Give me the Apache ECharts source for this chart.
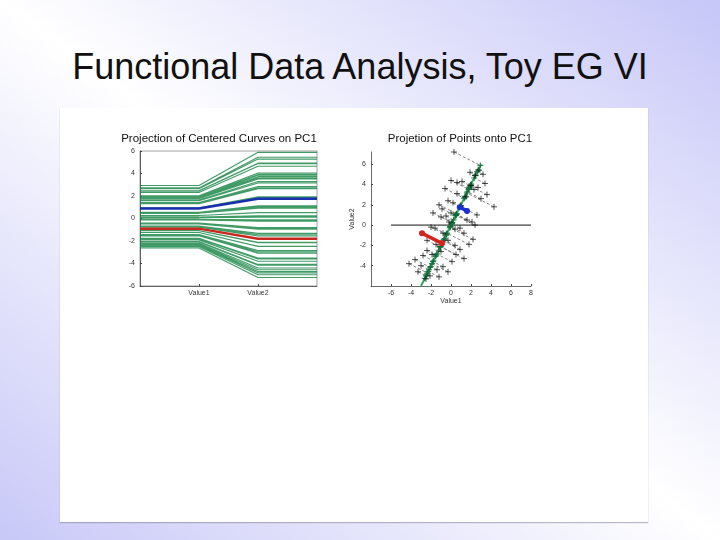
<!DOCTYPE html>
<html>
<head>
<meta charset="utf-8">
<script src="https://cdn.jsdelivr.net/npm/echarts@6/dist/echarts.min.js"></script>
<style>
html,body{margin:0;padding:0;width:720px;height:540px;overflow:hidden;}
body{background:linear-gradient(to bottom left,#c6c6f8 0%,#ffffff 50%,#c8c8f8 100%);position:relative;font-family:"Liberation Sans",Arial,sans-serif;}
#title{position:absolute;left:0;width:720px;top:46px;text-align:center;font-size:36px;color:#111;white-space:nowrap;}
#panel{position:absolute;left:60px;top:108px;width:588px;height:414px;background:#fff;box-shadow:0 1px 1px rgba(120,120,140,0.5);}
#chart{position:absolute;left:0;top:0;width:720px;height:540px;}
</style>
</head>
<body>
<div id="title">Functional Data Analysis, Toy EG VI</div>
<div id="panel"></div>
<div id="chart"></div>
<script>
// ---- data ----
const leftTitle = "Projection of Centered Curves on PC1";
const rightTitle = "Projetion of Points onto PC1";
const curveCategories = ["Value1", "Value2"];
// raw toy points (Value1, Value2)
const pointsX = [0.3, 2.8, 3.2, 1.9, 2.4, 3.4, 0.0, 0.6, 1.1, -0.6, 2.0, 2.3, 2.7, 4.3, -0.3, 0.2,
  -0.5, 0.0, -1.0, 1.6, 2.1, 2.4, -1.6, 0.4, 0.9, 1.3, -0.2, -2.4, 0.4, 0.9, 1.3, -2.4, -1.9, -1.0,
  -4.2, -3.6, -3.0, -1.4, -0.8, 0.1, -0.3, -2.5, -2.1, -3.3, 1.0, -1.8, 2.2, -0.3,
  1.5, -1.2, 0.6, 3.0, -0.8, 1.8, -1.5, -2.8, 0.5, -1.2, 3.6, -2.0, 2.6, -0.9];
const pointsY = [7.2, 5.4, 5.0, 5.2, 4.9, 4.1, 4.4, 4.2, 4.3, 3.6, 3.9, 3.5, 3.7, 1.8, 2.4, 2.2,
  0.9, 1.2, 0.8, 0.5, 0.3, 0.0, -0.3, -0.4, -0.3, -0.8, 0.3, -1.5, -2.0, -2.4, -3.3, -2.5, -2.9, -2.6,
  -3.8, -3.4, -4.0, -4.4, -4.1, -3.6, -4.6, -5.3, -5.0, -4.6, 1.9, 1.2, -1.4, -1.5,
  2.8, 2.0, 3.1, 2.6, -0.8, -1.9, -1.9, -3.0, -2.9, -5.1, 3.0, -0.2, 1.0, 1.6];
// highlighted points
const bluePoint = [1.6, 1.4];
const redPoint = [-2.9, -0.8];
// PC1 direction (Value1, Value2) = (1, 2)
const pcDir = [1, 2];
// drawn PC1 segment and zero line ends
const pcLineX = [-3, 3];
const pcLineY = [-6, 6];
const zeroLineX = [-6, 8];
// tick labels
const leftYTicks = [-6, -4, -2, 0, 2, 4, 6];
const rightXTicks = [-6, -4, -2, 0, 2, 4, 6, 8];
const rightYTicks = [-4, -2, 0, 2, 4, 6];

// ---- derived: projection onto PC1 ----
const nrm = pcDir[0]*pcDir[0] + pcDir[1]*pcDir[1];
function proj(p){ const t = (p[0]*pcDir[0] + p[1]*pcDir[1]) / nrm; return [t*pcDir[0], t*pcDir[1]]; }
const pts = pointsX.map((x,i)=>[x, pointsY[i]]);
const projPts = pts.map(proj);
const blueProj = proj(bluePoint), redProj = proj(redPoint);

function curve(pr){ return [[0, pr[0]], [1, pr[0]], [2, pr[1]], [3, pr[1]]]; }
const greenCurves = [];
projPts.forEach(pr => { curve(pr).forEach(d => greenCurves.push(d)); greenCurves.push([null, null]); });

const dashData = [];
pts.forEach((p,i) => { dashData.push(p); dashData.push(projPts[i]); dashData.push([null,null]); });

const axisFont = {fontSize: 7, color: '#333', fontFamily: 'Liberation Sans'};
const plus = 'path://M0,5L10,5M5,0L5,10';
const titleFont = {fontSize: 11.5, fontWeight: 'normal', color: '#111', fontFamily: 'Liberation Sans'};

const chart = echarts.init(document.getElementById('chart'), null, {renderer: 'canvas'});
chart.setOption({
  animation: false,
  backgroundColor: 'transparent',
  title: [
    {text: leftTitle, left: 219, top: 133, textAlign: 'center', padding: 0, textStyle: titleFont},
    {text: rightTitle, left: 460, top: 133, textAlign: 'center', padding: 0, textStyle: titleFont}
  ],
  grid: [
    {left: 140, top: 151, width: 177, height: 135, show: true, borderColor: '#888', borderWidth: 0.8, backgroundColor: 'transparent'},
    {left: 371, top: 152, width: 160, height: 134, show: false}
  ],
  xAxis: [
    {gridIndex: 0, type: 'value', min: 0, max: 3, interval: 1,
     axisLine: {show: true, onZero: false, lineStyle: {color: '#444', width: 0.8}},
     axisTick: {inside: true, length: 2, lineStyle: {color: '#444'}},
     splitLine: {show: false},
     axisLabel: Object.assign({margin: 4, formatter: v => (v >= 1 && v <= 2 ? curveCategories[v-1] : ''), showMinLabel: false, showMaxLabel: false}, axisFont)},
    {gridIndex: 1, type: 'value', min: -8, max: 8, interval: 2,
     axisLine: {show: true, onZero: false, lineStyle: {color: '#444', width: 0.8}},
     axisTick: {inside: true, length: 2, lineStyle: {color: '#444'}},
     splitLine: {show: false},
     name: 'Value1', nameLocation: 'middle', nameGap: 12, nameTextStyle: axisFont,
     axisLabel: Object.assign({margin: 4, showMinLabel: false, formatter: v => rightXTicks.includes(v) ? String(v) : ''}, axisFont)}
  ],
  yAxis: [
    {gridIndex: 0, type: 'value', min: -6, max: 6, interval: 2,
     axisLine: {show: true, onZero: false, lineStyle: {color: '#444', width: 0.8}},
     axisTick: {inside: true, length: 2, lineStyle: {color: '#444'}},
     splitLine: {show: false},
     axisLabel: Object.assign({margin: 5, formatter: v => leftYTicks.includes(v) ? String(v) : ''}, axisFont)},
    {gridIndex: 1, type: 'value', min: -6, max: 7.2, interval: 2,
     axisLine: {show: true, onZero: false, lineStyle: {color: '#444', width: 0.8}},
     axisTick: {inside: true, length: 2, lineStyle: {color: '#444'}},
     splitLine: {show: false},
     name: 'Value2', nameLocation: 'middle', nameGap: 14, nameRotate: 90, nameTextStyle: axisFont,
     axisLabel: Object.assign({margin: 5, showMinLabel: false, showMaxLabel: false, formatter: v => rightYTicks.includes(v) ? String(v) : ''}, axisFont)}
  ],
  series: [
    {type: 'line', xAxisIndex: 0, yAxisIndex: 0, data: greenCurves, connectNulls: false, showSymbol: false, symbol: 'none',
     lineStyle: {color: '#1f8a4c', width: 1.1, opacity: 0.85}, silent: true},
    {type: 'line', xAxisIndex: 0, yAxisIndex: 0, data: curve(blueProj), showSymbol: false, symbol: 'none',
     lineStyle: {color: '#1a2fb0', width: 2.5}, z: 5},
    {type: 'line', xAxisIndex: 0, yAxisIndex: 0, data: curve(redProj), showSymbol: false, symbol: 'none',
     lineStyle: {color: '#c8281e', width: 2.5}, z: 5},
    // right chart
    {type: 'line', xAxisIndex: 1, yAxisIndex: 1, data: zeroLineX.map(x => [x, 0]), showSymbol: false, symbol: 'none',
     lineStyle: {color: '#111', width: 1}},
    {type: 'line', xAxisIndex: 1, yAxisIndex: 1, data: dashData, connectNulls: false, showSymbol: false, symbol: 'none',
     lineStyle: {color: '#555', width: 0.7, type: [3, 2]}},
    {type: 'line', xAxisIndex: 1, yAxisIndex: 1, data: pcLineX.map((x,i) => [x, pcLineY[i]]), showSymbol: false, symbol: 'none',
     lineStyle: {color: '#3aa860', width: 2}, z: 3},
    {type: 'scatter', xAxisIndex: 1, yAxisIndex: 1, data: projPts, symbol: plus, symbolSize: 6,
     itemStyle: {color: 'none', borderColor: '#0d6b36', borderWidth: 1.2}, z: 4},
    {type: 'scatter', xAxisIndex: 1, yAxisIndex: 1, data: pts, symbol: plus, symbolSize: 6,
     itemStyle: {color: 'none', borderColor: '#111', borderWidth: 0.9}, z: 4},
    {type: 'line', xAxisIndex: 1, yAxisIndex: 1, data: [bluePoint, blueProj], symbol: 'circle', symbolSize: 6, showSymbol: true,
     lineStyle: {color: '#1a2fd0', width: 3.5}, itemStyle: {color: '#1a2fd0'}, z: 6},
    {type: 'line', xAxisIndex: 1, yAxisIndex: 1, data: [redPoint, redProj], symbol: 'circle', symbolSize: 6, showSymbol: true,
     lineStyle: {color: '#d8201c', width: 3.5}, itemStyle: {color: '#d8201c'}, z: 6}
  ]
});
</script>
</body>
</html>
